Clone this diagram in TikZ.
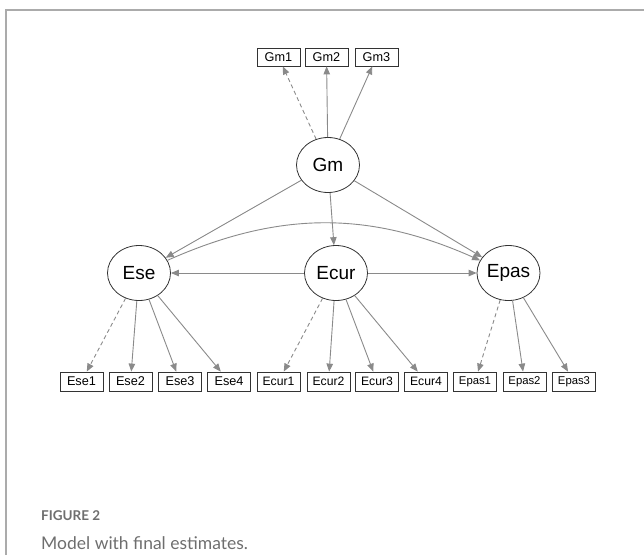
\documentclass[tikz,border=0pt]{standalone}
\usepackage{fontspec}
\setmainfont{Liberation Sans}
\newfontfamily\capfont{Lato}
\usetikzlibrary{shapes.geometric,arrows.meta}
\definecolor{cinzaseta}{HTML}{8A8A8A}
\definecolor{cinzaborda}{HTML}{333333}
\definecolor{cinzamoldura}{HTML}{ABABAB}
\definecolor{cinzalegenda}{HTML}{6E6E6E}
\begin{document}
\begin{tikzpicture}[
                x=1pt, y=-1pt,
                fator/.style={shape=ellipse, draw=cinzaborda, line width=0.8pt, minimum width=63pt, minimum height=55pt, inner sep=0pt, font=\fontsize{19}{19}\selectfont},
                indicador/.style={shape=rectangle, draw=cinzaborda, line width=0.8pt, minimum width=43pt, minimum height=19pt, inner sep=0pt, font=\fontsize{12.7}{12.7}\selectfont},
                carga/.style={draw=cinzaseta, line width=0.9pt, -{Triangle[length=8pt,width=6.5pt]}},
                cargafixa/.style={carga, dash pattern=on 4pt off 3pt},
            ]
            \useasboundingbox (0,0) rectangle (644,555);
            \draw[cinzamoldura, line width=1.3pt] (6,555) -- (6,10) -- (644,10);
            % fatores
            \node[fator] (gm) at (328,165) {Gm};
            \node[fator] (ese) at (139,273) {Ese};
            \node[fator] (ecur) at (336,273) {Ecur};
            \node[fator] (epas) at (508.5,273) {Epas};
            % itens
            \node[indicador, minimum height=18pt] (gm1) at (278.5,57) {Gm1};
            \node[indicador, minimum height=18pt] (gm2) at (326.5,57) {Gm2};
            \node[indicador, minimum height=18pt] (gm3) at (376.5,57) {Gm3};
            \node[indicador] (ese1) at (81.5,381.5) {Ese1};
            \node[indicador] (ese2) at (130.5,381.5) {Ese2};
            \node[indicador] (ese3) at (180,381.5) {Ese3};
            \node[indicador] (ese4) at (229,381.5) {Ese4};
            \node[indicador, font=\fontsize{12.2}{12.2}\selectfont] (ecur1) at (278.5,381.5) {Ecur1};
            \node[indicador, font=\fontsize{12.2}{12.2}\selectfont] (ecur2) at (328.5,381.5) {Ecur2};
            \node[indicador, font=\fontsize{12.2}{12.2}\selectfont] (ecur3) at (377,381.5) {Ecur3};
            \node[indicador, font=\fontsize{12.2}{12.2}\selectfont] (ecur4) at (426,381.5) {Ecur4};
            \node[indicador, font=\fontsize{11.3}{11.3}\selectfont] (epas1) at (475,381.5) {Epas1};
            \node[indicador, font=\fontsize{11.3}{11.3}\selectfont] (epas2) at (524.5,381.5) {Epas2};
            \node[indicador, font=\fontsize{11.3}{11.3}\selectfont] (epas3) at (574,381.5) {Epas3};
            % cargas
            \draw[cargafixa] (gm) -- (gm1);
            \draw[carga] (gm) -- (gm2);
            \draw[carga] (gm) -- (gm3);
            \draw[cargafixa] (ese) -- (ese1);
            \draw[carga] (ese) -- (ese2);
            \draw[carga] (ese) -- (ese3);
            \draw[carga] (ese) -- (ese4);
            \draw[cargafixa] (ecur) -- (ecur1);
            \draw[carga] (ecur) -- (ecur2);
            \draw[carga] (ecur) -- (ecur3);
            \draw[carga] (ecur) -- (ecur4);
            \draw[cargafixa] (epas) -- (epas1);
            \draw[carga] (epas) -- (epas2);
            \draw[carga] (epas) -- (epas3);
            % estrutura
            \draw[carga] (gm) -- (ese);
            \draw[carga] (gm) -- (ecur);
            \draw[carga] (gm) -- (epas);
            \draw[carga] (ecur) -- (ese);
            \draw[carga] (ecur) -- (epas);
            \draw[carga] (ese) to[bend left=24] (epas);
            % legenda
            \node[anchor=base west, inner sep=0pt, text=cinzalegenda, font=\capfont\bfseries\fontsize{13.5}{13.5}\selectfont] (rotulo) at (41,520) {FIGURE 2};
            \node[anchor=base west, inner sep=0pt, text=cinzalegenda, font=\capfont\fontsize{17.5}{17.5}\selectfont] (legenda) at (41,549) {Model with final estimates.};
        \end{tikzpicture}
\end{document}
